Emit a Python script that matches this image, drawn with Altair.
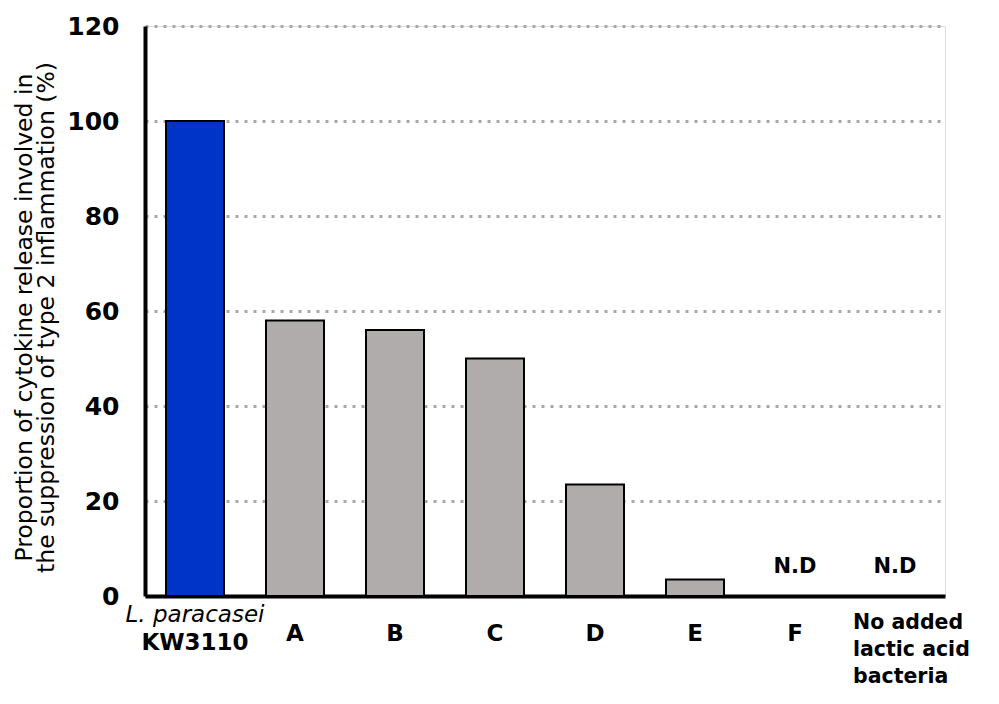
import altair as alt
import pandas as pd

categories = ["L. paracasei KW3110", "A", "B", "C", "D", "E", "F", "No added lactic acid bacteria"]
values = [100, 58, 56, 50, 23.5, 3.5, None, None]
not_detected = [False, False, False, False, False, False, True, True]
highlight = [True, False, False, False, False, False, False, False]
y_ticks = [0, 20, 40, 60, 80, 100, 120]
y_title = ["Proportion of cytokine release involved in", "the suppression of type 2 inflammation (%)"]

df = pd.DataFrame({"cat": categories, "value": values, "nd": not_detected, "hl": highlight})
bars_df = df[df["value"].notna()]
nd_df = df[df["nd"]].assign(label="N.D")

simple_labels = pd.DataFrame({"cat": categories[1:7]})
first_label = pd.DataFrame({"cat": [categories[0]], "l1": ["L. paracasei"], "l2": ["KW3110"]})
last_label = pd.DataFrame({"cat": [categories[-1]], "t": ["No added\nlactic acid\nbacteria"]})

xenc = alt.X("cat:N", sort=categories,
             scale=alt.Scale(paddingInner=0.42, paddingOuter=0.21),
             axis=alt.Axis(labels=False, ticks=False, title=None, domainColor="black",
                           domainWidth=4, grid=False))

bars = alt.Chart(bars_df).mark_bar(stroke="black", strokeWidth=2).encode(
    x=xenc,
    y=alt.Y("value:Q", scale=alt.Scale(domain=[0, 120], nice=False),
            axis=alt.Axis(values=y_ticks, title=y_title, titleFont="DejaVu Sans",
                          titleFontSize=23.5, titleFontWeight="normal", titleColor="black",
                          titleAngle=-90, titleX=-121, titleY=291, titleAlign="center",
                          titleBaseline="middle", titleLineHeight=22,
                          labelFont="DejaVu Sans", labelFontWeight="bold", labelFontSize=25,
                          labelColor="black", labelPadding=26, ticks=False, tickSize=0,
                          domainColor="black", domainWidth=4,
                          grid=True, gridColor="#a8a8a8", gridDash=[3, 6], gridWidth=3)),
    color=alt.condition(alt.datum.hl, alt.value("#0033c8"), alt.value("#b0acac")),
)

nd_text = alt.Chart(nd_df).mark_text(font="DejaVu Sans", fontWeight="bold", fontSize=21,
                                     color="black").encode(
    x=alt.X("cat:N", sort=categories), y=alt.value(541), text="label:N")

lab_simple = alt.Chart(simple_labels).mark_text(font="DejaVu Sans", fontWeight="bold",
                                                fontSize=23, color="black").encode(
    x=alt.X("cat:N", sort=categories), y=alt.value(608), text="cat:N")

lab_first1 = alt.Chart(first_label).mark_text(font="DejaVu Sans", fontStyle="italic",
                                              fontSize=23, color="black").encode(
    x=alt.X("cat:N", sort=categories), y=alt.value(589), text="l1:N")
lab_first2 = alt.Chart(first_label).mark_text(font="DejaVu Sans", fontWeight="bold",
                                              fontSize=23, color="black").encode(
    x=alt.X("cat:N", sort=categories), y=alt.value(617), text="l2:N")

lab_last = alt.Chart(last_label).mark_text(font="DejaVu Sans", fontWeight="bold", fontSize=20.5,
                                           color="black", align="left", baseline="middle",
                                           lineBreak="\n", lineHeight=27, dx=-42).encode(
    x=alt.X("cat:N", sort=categories), y=alt.value(597), text="t:N")

chart = alt.layer(bars, nd_text, lab_simple, lab_first1, lab_first2, lab_last).properties(
    width=800, height=570,
    autosize=alt.AutoSizeParams(type="none"),
    padding={"left": 137, "top": 18, "right": 46, "bottom": 100},
).configure_view(stroke=None).configure(background="white")

chart.save("out.html", embed_options={"renderer": "svg", "actions": False})
